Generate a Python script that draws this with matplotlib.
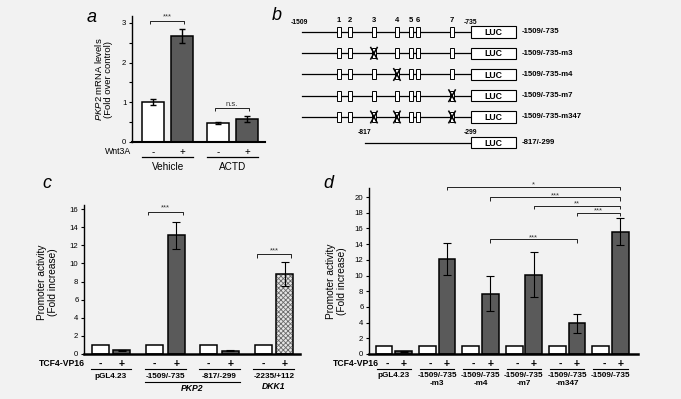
import matplotlib
matplotlib.use('Agg')
import matplotlib.pyplot as plt
from matplotlib.patches import Rectangle
from matplotlib.transforms import blended_transform_factory as btf

plt.rcParams['font.family'] = ['Liberation Sans', 'DejaVu Sans']
plt.rcParams['mathtext.fontset'] = 'custom'
plt.rcParams['mathtext.it'] = 'Liberation Sans:italic'
plt.rcParams['mathtext.rm'] = 'Liberation Sans'
plt.rcParams['mathtext.bf'] = 'Liberation Sans:bold'
plt.rcParams['hatch.linewidth'] = 0.6

BG = '#f2f2f2'
DARK = '#5a5a5a'

# ---------------- data ----------------
# panel a
a_groups = ['Vehicle', 'ACTD']
a_ctrl = [1.0, 0.48]
a_ctrl_err = [0.07, 0.02]
a_wnt = [2.67, 0.58]
a_wnt_err = [0.17, 0.07]
a_sig = ['***', 'n.s.']
a_sig_level = [3.05, 0.86]

# panel b
b_sites = [21.9, 28.4, 42.6, 56.2, 64.5, 68.6, 88.8]      # schematic units
b_site_names = ['1', '2', '3', '4', '5', '6', '7']
b_constructs = ['-1509/-735', '-1509/-735-m3', '-1509/-735-m4',
                '-1509/-735-m7', '-1509/-735-m347']
b_mutated = [[], [3], [4], [7], [3, 4, 7]]
b_short = '-817/-299'
b_short_start = 37.3
b_luc = (100, 126.6)

# panel c
c_groups = ['pGL4.23', '-1509/-735', '-817/-299', '-2235/+112']
c_ctrl = [1.0, 1.0, 1.0, 1.0]
c_tcf = [0.42, 13.1, 0.38, 8.8]
c_tcf_err = [0.05, 1.5, 0.05, 1.3]
c_sig = [(1, '***', 15.7), (3, '***', 11.0)]

# panel d
d_groups = ['pGL4.23', '-1509/-735\n-m3', '-1509/-735\n-m4', '-1509/-735\n-m7',
            '-1509/-735\n-m347', '-1509/-735']
d_ctrl = [1.0, 1.0, 1.0, 1.0, 1.0, 1.0]
d_tcf = [0.32, 12.1, 7.7, 10.1, 3.9, 15.6]
d_tcf_err = [0.03, 2.05, 2.2, 2.9, 1.2, 1.7]
d_sig = [(1, 5, '*', 21.3), (2, 5, '***', 20.0), (3, 5, '**', 18.9),
         (4, 5, '***', 18.0), (2, 4, '***', 14.65)]

# ---------------- figure ----------------
W, H = 681, 399
fig = plt.figure(figsize=(W / 100, H / 100), dpi=100, facecolor=BG)


def ax_px(x0, y0, x1, y1):
    ax = fig.add_axes([x0 / W, 1 - y1 / H, (x1 - x0) / W, (y1 - y0) / H])
    ax.set_facecolor(BG)
    return ax


def fy(py):
    return 1 - py / H


def style_bar_axes(ax, lw_left=1.0, lw_bottom=1.6):
    for s in ['top', 'right']:
        ax.spines[s].set_visible(False)
    ax.spines['left'].set_linewidth(lw_left)
    ax.spines['bottom'].set_linewidth(lw_bottom)
    ax.set_xticks([])
    ax.tick_params(axis='y', length=2.5, width=0.8, labelsize=5.6, pad=1.5, direction='out')


def bracket(ax, x1, x2, y, h, label, fs=5.5, dy=0.0):
    ax.plot([x1, x1, x2, x2], [y - h, y, y, y - h], color='#222222', lw=0.7,
            clip_on=False, solid_capstyle='butt')
    ax.text((x1 + x2) / 2, y + dy, label, ha='center', va='bottom',
            fontsize=fs, color='#333333')


# ---------------- panel a ----------------
axa = ax_px(132, 16, 265, 142)
style_bar_axes(axa, 1.0, 1.5)
a_x0 = [g * 2.2 for g in range(len(a_groups))]
a_x1 = [x + 1 for x in a_x0]
bw = 0.75
axa.bar(a_x0, a_ctrl, bw, color='white', edgecolor='black', lw=1.1, zorder=2)
axa.bar(a_x1, a_wnt, bw, color=DARK, edgecolor='black', lw=1.1, zorder=2)
axa.errorbar(a_x0, a_ctrl, yerr=a_ctrl_err, fmt='none', ecolor='black',
             elinewidth=1.0, capsize=2.3, capthick=1.0, zorder=3)
axa.errorbar(a_x1, a_wnt, yerr=a_wnt_err, fmt='none', ecolor='black',
             elinewidth=1.0, capsize=2.3, capthick=1.0, zorder=3)
axa.set_xlim(-0.71, 3.8)
axa.set_ylim(0, 3.17)
axa.set_yticks([0, 0.5, 1, 1.5, 2, 2.5, 3])
axa.set_yticklabels(['0', '', '1', '', '2', '', '3'])
axa.set_ylabel('$\\it{PKP2}$ mRNA levels\n(Fold over control)', fontsize=6.8,
               linespacing=1.1)
axa.yaxis.set_label_coords(-0.14, 0.5)
for i in range(len(a_groups)):
    bracket(axa, a_x0[i] - 0.1, a_x1[i] + 0.05, a_sig_level[i], 0.08, a_sig[i], fs=5.5)
ta = btf(axa.transData, fig.transFigure)
fig.text(131 / W, fy(152), 'Wnt3A', ha='right', va='center', fontsize=6.3)
for i, g in enumerate(a_groups):
    axa.text(a_x0[i], fy(152), '-', transform=ta, ha='center', va='center', fontsize=7)
    axa.text(a_x1[i], fy(152), '+', transform=ta, ha='center', va='center', fontsize=7)
    axa.plot([a_x0[i] - bw / 2, a_x1[i] + bw / 2], [fy(157)] * 2, transform=ta,
             color='black', lw=0.9, clip_on=False)
    axa.text((a_x0[i] + a_x1[i]) / 2, fy(167), g, transform=ta, ha='center',
             va='center', fontsize=7.2)
fig.text(92 / W, fy(17), 'a', ha='center', va='center', fontsize=13, style='italic')

# ---------------- panel b ----------------
axb = ax_px(265, 0, 681, 165)
axb.set_xlim(-21.9, 224.3)
axb.set_ylim(6.26, -1.506)
axb.axis('off')
site_w, site_h = 2.4, 0.47
luc_h = 0.52
for r, name in enumerate(b_constructs):
    axb.plot([0, b_luc[0]], [r, r], color='black', lw=0.9, zorder=1)
    for k, sx in enumerate(b_sites):
        axb.add_patch(Rectangle((sx - site_w / 2, r - site_h / 2), site_w, site_h,
                                facecolor='white', edgecolor='black', lw=0.7, zorder=2))
        if (k + 1) in b_mutated[r]:
            dx, dy = 1.9, 0.27
            axb.plot([sx - dx, sx + dx], [r - dy, r + dy], color='black', lw=1.1, zorder=3)
            axb.plot([sx - dx, sx + dx], [r + dy, r - dy], color='black', lw=1.1, zorder=3)
    axb.add_patch(Rectangle((b_luc[0], r - luc_h / 2), b_luc[1] - b_luc[0], luc_h,
                            facecolor='white', edgecolor='black', lw=0.8, zorder=2))
    axb.text((b_luc[0] + b_luc[1]) / 2, r + 0.03, 'LUC', ha='center', va='center',
             fontsize=6.3, fontweight='bold', zorder=4)
    axb.text(b_luc[1] + 3.5, r, name, ha='left', va='center', fontsize=5.6,
             fontweight='bold')
for k, sx in enumerate(b_sites):
    axb.text(sx, -0.52, b_site_names[k], ha='center', va='center', fontsize=5.5,
             fontweight='bold')
axb.text(-1.5, -0.45, '-1509', ha='center', va='center', fontsize=4.9, fontweight='bold')
axb.text(b_luc[0], -0.45, '-735', ha='center', va='center', fontsize=4.9, fontweight='bold')
rs = 5.22
axb.plot([b_short_start, b_luc[0]], [rs, rs], color='black', lw=0.9, zorder=1)
axb.add_patch(Rectangle((b_luc[0], rs - luc_h / 2), b_luc[1] - b_luc[0], luc_h,
                        facecolor='white', edgecolor='black', lw=0.8, zorder=2))
axb.text((b_luc[0] + b_luc[1]) / 2, rs + 0.03, 'LUC', ha='center', va='center',
         fontsize=6.3, fontweight='bold', zorder=4)
axb.text(b_luc[1] + 3.5, rs, b_short, ha='left', va='center', fontsize=5.6,
         fontweight='bold')
axb.text(b_short_start - 0.5, 4.72, '-817', ha='center', va='center', fontsize=4.9,
         fontweight='bold')
axb.text(b_luc[0], 4.72, '-299', ha='center', va='center', fontsize=4.9,
         fontweight='bold')
fig.text(277 / W, fy(16), 'b', ha='center', va='center', fontsize=13, style='italic')

# ---------------- panel c ----------------
axc = ax_px(84, 204.5, 300, 354)
style_bar_axes(axc, 1.0, 1.8)
c_x0 = [g * 2.5 for g in range(len(c_groups))]
c_x1 = [x + 1 for x in c_x0]
bwc = 0.78
axc.bar(c_x0, c_ctrl, bwc, color='white', edgecolor='black', lw=1.1, zorder=2)
c_face = [DARK, DARK, DARK, '#e4e4e4']
c_hatch = [None, None, None, 'xxxxxxx']
for i in range(len(c_groups)):
    if c_hatch[i]:
        axc.bar(c_x1[i], c_tcf[i], bwc, color=c_face[i], edgecolor='#6a6a6a', lw=0,
                hatch=c_hatch[i], zorder=2)
        axc.bar(c_x1[i], c_tcf[i], bwc, color='none', edgecolor='black', lw=1.1,
                zorder=2)
    else:
        axc.bar(c_x1[i], c_tcf[i], bwc, color=c_face[i], edgecolor='black', lw=1.1,
                zorder=2)
axc.errorbar(c_x1, c_tcf, yerr=c_tcf_err, fmt='none', ecolor='black',
             elinewidth=0.8, capsize=2.8, capthick=0.8, zorder=3)
axc.set_xlim(-0.74, 9.2)
axc.set_ylim(0, 16.5)
axc.set_yticks(range(0, 17, 2))
axc.set_ylabel('Promoter activity\n(Fold increase)', fontsize=7.3, linespacing=1.1)
axc.yaxis.set_label_coords(-0.12, 0.48)
for gi, lab, lev in c_sig:
    bracket(axc, c_x0[gi] - 0.3, c_x1[gi] + 0.3, lev, 0.35, lab, fs=5.5)
tc = btf(axc.transData, fig.transFigure)
fig.text(85 / W, fy(364), 'TCF4-VP16', ha='right', va='center', fontsize=6.2,
         fontweight='bold')
for i, g in enumerate(c_groups):
    axc.text(c_x0[i], fy(364), '-', transform=tc, ha='center', va='center',
             fontsize=7.5, fontweight='bold')
    axc.text(c_x1[i], fy(364), '+', transform=tc, ha='center', va='center',
             fontsize=7.5, fontweight='bold')
    axc.plot([c_x0[i] - bwc / 2 - 0.05, c_x1[i] + bwc / 2 + 0.05], [fy(368.5)] * 2,
             transform=tc, color='black', lw=0.8, clip_on=False)
    axc.text((c_x0[i] + c_x1[i]) / 2, fy(376.5), g, transform=tc, ha='center',
             va='center', fontsize=5.9, fontweight='bold')
axc.plot([c_x0[1] - bwc / 2 - 0.05, c_x1[2] + bwc / 2 + 0.05], [fy(382)] * 2,
         transform=tc, color='black', lw=0.8, clip_on=False)
axc.text((c_x0[1] + c_x1[2]) / 2, fy(388.5), 'PKP2', transform=tc, ha='center',
         va='center', fontsize=6.2, fontweight='bold', style='italic')
axc.text((c_x0[3] + c_x1[3]) / 2, fy(386.5), 'DKK1', transform=tc, ha='center',
         va='center', fontsize=6.2, fontweight='bold', style='italic')
fig.text(47 / W, fy(183), 'c', ha='center', va='center', fontsize=13, style='italic')

# ---------------- panel d ----------------
axd = ax_px(369, 188.4, 638, 354)
style_bar_axes(axd, 1.0, 1.8)
d_x0 = [g * 2.22 for g in range(len(d_groups))]
d_x1 = [x + 1 for x in d_x0]
bwd = 0.86
axd.bar(d_x0, d_ctrl, bwd, color='white', edgecolor='black', lw=1.1, zorder=2)
axd.bar(d_x1, d_tcf, bwd, color=DARK, edgecolor='black', lw=1.1, zorder=2)
axd.errorbar(d_x1, d_tcf, yerr=d_tcf_err, fmt='none', ecolor='black',
             elinewidth=0.8, capsize=2.8, capthick=0.8, zorder=3)
axd.set_xlim(-0.77, 13.0)
axd.set_ylim(0, 21.1)
axd.set_yticks(range(0, 21, 2))
axd.set_ylabel('Promoter activity\n(Fold increase)', fontsize=7.3, linespacing=1.1)
axd.yaxis.set_label_coords(-0.082, 0.44)
for g1, g2, lab, lev in d_sig:
    bracket(axd, d_x1[g1], d_x1[g2], lev, 0.45, lab, fs=5.5, dy=-0.25)
td = btf(axd.transData, fig.transFigure)
fig.text(379 / W, fy(364), 'TCF4-VP16', ha='right', va='center', fontsize=6.2,
         fontweight='bold')
for i, g in enumerate(d_groups):
    axd.text(d_x0[i] + 0.15, fy(364), '-', transform=td, ha='center', va='center',
             fontsize=7.5, fontweight='bold')
    axd.text(d_x1[i], fy(364), '+', transform=td, ha='center', va='center',
             fontsize=7.5, fontweight='bold')
    axd.plot([d_x0[i] - bwd / 2 + 0.05, d_x1[i] + bwd / 2 - 0.05], [fy(368.5)] * 2,
             transform=td, color='black', lw=0.8, clip_on=False)
    axd.text((d_x0[i] + d_x1[i]) / 2, fy(372), g, transform=td, ha='center',
             va='top', fontsize=5.9, fontweight='bold', linespacing=1.15)
fig.text(328 / W, fy(183), 'd', ha='center', va='center', fontsize=13, style='italic')

fig.savefig('out.png', dpi=100, facecolor=BG)
